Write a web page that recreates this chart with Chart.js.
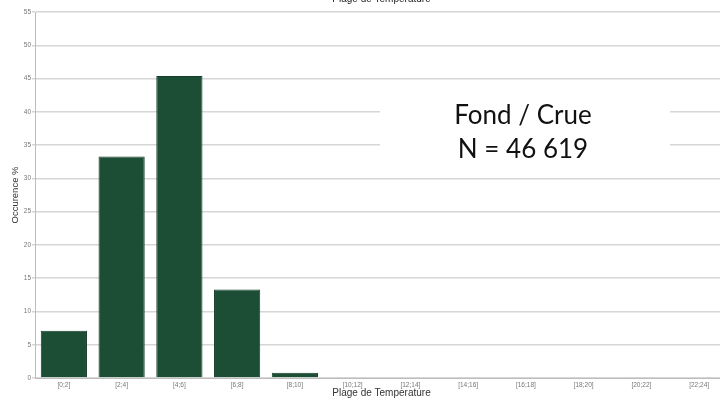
<!DOCTYPE html>
<html lang="fr">
<head>
<meta charset="UTF-8">
<title>Plage de Temperature</title>
<script src="https://cdn.jsdelivr.net/npm/chart.js@4.4.0/dist/chart.umd.min.js"></script>
<style>
  html, body { margin: 0; padding: 0; background: #fff; overflow: hidden; }
  #wrap { width: 728px; height: 400px; position: relative; }
</style>
</head>
<body>
<div id="wrap"><canvas id="c"></canvas></div>
<script>
var categories = ['[0;2]', '[2;4]', '[4;6]', '[6;8]', '[8;10]', '[10;12]', '[12;14]', '[14;16]', '[16;18]', '[18;20]', '[20;22]', '[22;24]'];
var occurence = [7.1, 33.3, 45.4, 13.3, 0.8, 0, 0, 0, 0, 0, 0, 0];
var yTicks = [0, 5, 10, 15, 20, 25, 30, 35, 40, 45, 50, 55];
var noteLines = ['Fond / Crue', 'N = 46 619'];

// titre du haut (coupé) + encadré blanc avec le texte
var overlay = {
    id: 'overlay',
    afterDraw: function (chart) {
        var ctx = chart.ctx;
        var area = chart.chartArea;
        ctx.save();
        ctx.fillStyle = '#222';
        ctx.font = '10px "Liberation Sans", Arial, sans-serif';
        ctx.textAlign = 'center';
        ctx.textBaseline = 'alphabetic';
        ctx.fillText('Plage de Temperature', (area.left + area.right) / 2, 2);

        ctx.fillStyle = '#ffffff';
        ctx.fillRect(380, 92, 290, 76);
        ctx.fillStyle = '#111';
        ctx.font = '26px Lato, "Open Sans", sans-serif';
        ctx.textBaseline = 'middle';
        ctx.fillText(noteLines[0], 523, 116);
        ctx.fillText(noteLines[1], 523, 150);
        ctx.restore();
    }
};

new Chart(document.getElementById('c'), {
    type: 'bar',
    data: {
        labels: categories,
        datasets: [{
            data: occurence,
            backgroundColor: '#1c4e36',
            borderColor: '#153e2a',
            borderWidth: 1,
            barPercentage: 0.8,
            categoryPercentage: 1.0
        }]
    },
    options: {
        responsive: true,
        maintainAspectRatio: false,
        animation: false,
        layout: { padding: { top: 12, right: 0, left: 0, bottom: 0 } },
        plugins: {
            legend: { display: false },
            tooltip: { enabled: false }
        },
        scales: {
            x: {
                grid: { display: false, drawTicks: false },
                border: { color: '#bdbdbd', width: 1 },
                ticks: {
                    color: '#777',
                    font: { size: 6.5, family: '"Liberation Sans", Arial, sans-serif' },
                    padding: 3,
                    maxRotation: 0,
                    autoSkip: false
                },
                title: {
                    display: true,
                    text: 'Plage de Temperature',
                    color: '#333',
                    font: { size: 10, family: '"Liberation Sans", Arial, sans-serif' },
                    padding: { top: 0, bottom: 1 }
                },
                afterFit: function (scale) { scale.height = 22; }
            },
            y: {
                min: 0,
                max: 55,
                afterBuildTicks: function (scale) {
                    scale.ticks = yTicks.map(function (v) { return { value: v }; });
                },
                grid: { color: '#d6d6d6', lineWidth: 1.5, tickLength: 3 },
                border: { color: '#bdbdbd', width: 1 },
                ticks: {
                    color: '#777',
                    font: { size: 6.5, family: '"Liberation Sans", Arial, sans-serif' },
                    padding: 1
                },
                title: {
                    display: true,
                    text: 'Occurence %',
                    color: '#333',
                    font: { size: 9.5, family: '"Liberation Sans", Arial, sans-serif' },
                    padding: { top: 10, bottom: 0 }
                },
                afterFit: function (scale) { scale.width = 35; }
            }
        }
    },
    plugins: [overlay]
});
</script>
</body>
</html>
